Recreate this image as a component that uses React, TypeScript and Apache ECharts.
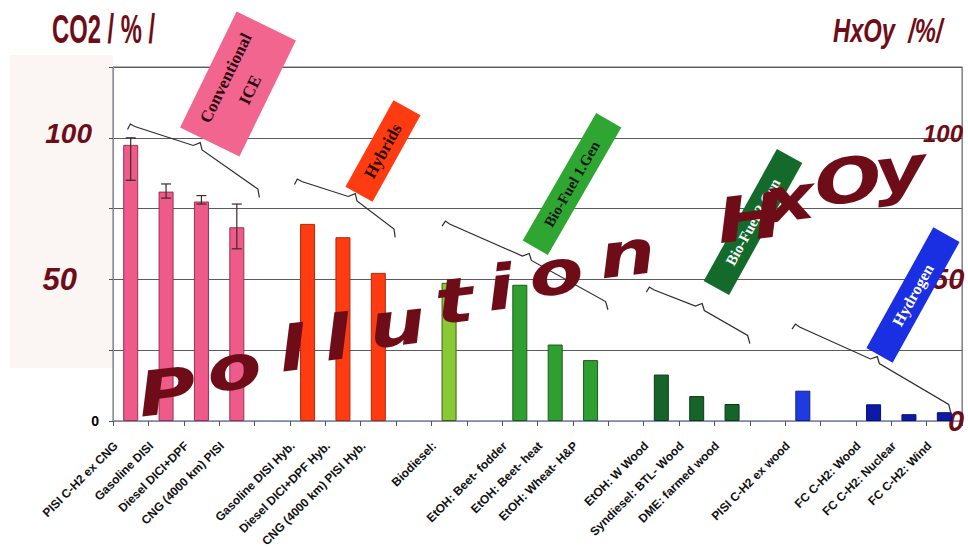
import React, { useEffect, useRef } from "react";
import * as echarts from "echarts";

// ---------- data ----------
const categories = [
  "PISI C-H2 ex CNG", "Gasoline DISI", "Diesel DICI+DPF", "CNG (4000 km) PISI", "",
  "Gasoline DISI Hyb.", "Diesel DICI+DPF Hyb.", "CNG (4000 km) PISI Hyb.", "",
  "Biodiesel:", "", "EtOH: Beet- fodder", "EtOH: Beet- heat", "EtOH: Wheat- H&P", "",
  "EtOH: W Wood", "Syndiesel: BTL- Wood", "DME: farmed wood", "",
  "PISI C-H2 ex wood", "", "FC C-H2: Wood", "FC C-H2: Nuclear", "FC C-H2: Wind",
];
const co2Values = [
  97.5, 81, 77.5, 68.4, null,
  69.6, 64.9, 52.3, null,
  48.8, null, 48.1, 27.0, 21.5, null,
  16.4, 8.8, 6.0, null,
  10.7, null, 5.9, 2.4, 3.1,
];
// colour family of each category (index into the palette)
const barFamily = [0, 0, 0, 0, -1, 1, 1, 1, -1, 2, -1, 3, 3, 3, -1, 4, 4, 4, -1, 5, -1, 6, 6, 6];
const errCategoryIdx = [0, 1, 2, 3];
const errLow = [85, 78.7, 76.6, 60.8];
const errHigh = [100, 83.7, 79.6, 76.6];
const yTicks = [0, 50, 100];
const groupLabels = ["Conventional\nICE", "Hybrids", "Bio-Fuel 1.Gen", "Bio-Fuel 2.Gen", "Hydrogen"];
const leftTitle = "CO2 / % /";
const rightTitle = "HxOy  /%/";
const pollutionLetters = ["P", "o", "l", "l", "u", "t", "i", "o", "n", "H", "x", "O", "y"];

// ---------- styles ----------
const DARK_RED = "#6e0c18";
const fills = ["#ee5a8a", "#ff3b12", "#88c934", "#2f9f32", "#17642a", "#1f3be0", "#0d1aa8"];
const borders = ["#9c3050", "#b02a08", "#3e5e12", "#1a5a1a", "#0c3a14", "#10208a", "#070f70"];

const labelBoxes = [
  { cx: 238, cy: 84, w: 129, h: 66, deg: 64, fill: "#f1658f", color: "#2a0a10", size: 17 },
  { cx: 383, cy: 151, w: 99, h: 31, deg: 61, fill: "#ff3b12", color: "#2a0a0a", size: 17 },
  { cx: 572, cy: 184, w: 147, h: 29, deg: 60, fill: "#2fa631", color: "#151515", size: 15 },
  { cx: 753, cy: 222, w: 151, h: 29, deg: 61, fill: "#136a2a", color: "#ffffff", size: 15 },
  { cx: 913, cy: 295, w: 138, h: 30, deg: 61, fill: "#1a2ee2", color: "#ffffff", size: 16 },
];
const braces = [
  [[130, 125], [198, 147], [262, 192]],
  [[297, 180], [353, 198], [398, 232]],
  [[445, 222], [527, 258], [610, 304]],
  [[649, 288], [700, 308], [752, 338]],
  [[795, 325], [875, 361], [953, 407]],
];
const letterPos = [
  [167, 392], [234, 368], [292, 349], [337, 338], [397, 324], [454, 301], [500, 288],
  [556, 273], [627, 254], [750, 218], [789, 199], [848, 181], [900, 170],
];

function bracePoints(S: number[], M: number[], E: number[]) {
  const norm = (a: number[], b: number[]) => {
    const dx = b[0] - a[0], dy = b[1] - a[1];
    const l = Math.hypot(dx, dy);
    return [dx / l, dy / l];
  };
  const u1 = norm(S, M);
  const u2 = norm(M, E);
  const n1 = [u1[1], -u1[0]];
  const n2 = [u2[1], -u2[0]];
  const nm = [(n1[0] + n2[0]) / 2, (n1[1] + n2[1]) / 2];
  return [
    [S[0] - n1[0] * 5 - u1[0], S[1] - n1[1] * 5 - u1[1]],
    [S[0] + n1[0] * 1, S[1] + n1[1] * 1],
    [S[0] + u1[0] * 5, S[1] + u1[1] * 5],
    [M[0] - u1[0] * 5, M[1] - u1[1] * 5],
    [M[0] + nm[0] * 5, M[1] + nm[1] * 5],
    [M[0] + u2[0] * 5, M[1] + u2[1] * 5],
    [E[0] - u2[0] * 5, E[1] - u2[1] * 5],
    [E[0] - n2[0] * 6 + u2[0], E[1] - n2[1] * 6 + u2[1]],
  ];
}

export default function App() {
  const ref = useRef<HTMLDivElement>(null);
  useEffect(() => {
    if (!ref.current) return;
    const chart = echarts.init(ref.current, undefined, { renderer: "svg" });

    const barData = co2Values.map((v, i) =>
      v === null
        ? "-"
        : {
            value: v,
            itemStyle: { color: fills[barFamily[i]], borderColor: borders[barFamily[i]], borderWidth: 1 },
          }
    );
    const errData = errCategoryIdx.map((c, i) => [c, errLow[i], errHigh[i]]);

    const graphic: any[] = [];
    graphic.push({
      type: "rect",
      z: -10,
      shape: { x: 10, y: 55, width: 103, height: 313 },
      style: { fill: "#fbf6f4" },
    });
    graphic.push({
      type: "text",
      x: 52,
      y: 8,
      scaleX: 0.58,
      z: 20,
      style: {
        text: leftTitle,
        fontSize: 41,
        fontWeight: "bold",
        fontFamily: "Liberation Sans",
        fill: DARK_RED,
        verticalAlign: "top",
      },
    });
    graphic.push({
      type: "text",
      x: 833,
      y: 14,
      scaleX: 0.72,
      z: 20,
      style: {
        text: rightTitle,
        fontSize: 33,
        fontWeight: "bold",
        fontStyle: "italic",
        fontFamily: "Liberation Sans",
        fill: DARK_RED,
        verticalAlign: "top",
      },
    });
    braces.forEach((b) => {
      graphic.push({
        type: "polyline",
        z: 5,
        shape: { points: bracePoints(b[0], b[1], b[2]) },
        style: { stroke: "#2a2a2a", lineWidth: 1.2, fill: null },
      });
    });
    labelBoxes.forEach((b, i) => {
      graphic.push({
        type: "group",
        x: b.cx,
        y: b.cy,
        rotation: (b.deg * Math.PI) / 180,
        z: 10,
        children: [
          {
            type: "rect",
            z: 10,
            shape: { x: -b.w / 2, y: -b.h / 2, width: b.w, height: b.h },
            style: { fill: b.fill },
          },
          {
            type: "text",
            z: 11,
            style: {
              text: groupLabels[i],
              x: 0,
              y: 0,
              align: "center",
              verticalAlign: "middle",
              fontSize: b.size,
              fontWeight: "bold",
              fontFamily: "Liberation Serif",
              fill: b.color,
              lineHeight: b.size + 10,
            },
          },
        ],
      });
    });
    pollutionLetters.forEach((ch, i) => {
      graphic.push({
        type: "text",
        x: letterPos[i][0],
        y: letterPos[i][1],
        rotation: 0.12,
        scaleX: 1.28,
        z: 30,
        style: {
          text: ch,
          align: "center",
          verticalAlign: "middle",
          fontSize: 62,
          fontWeight: "bold",
          fontStyle: "italic",
          fontFamily: "DejaVu Sans",
          fill: DARK_RED,
        },
      });
    });

    const leftRich = {
      z: { fontSize: 14, fontWeight: "bold", color: "#000", fontFamily: "Liberation Sans" },
      a: {
        fontSize: 28, fontWeight: "bold", fontStyle: "italic", color: DARK_RED,
        fontFamily: "Liberation Sans", padding: [0, 7, 8, 0],
      },
      b: {
        fontSize: 31, fontWeight: "bold", fontStyle: "italic", color: DARK_RED,
        fontFamily: "Liberation Sans", padding: [0, 22, 0, 0],
      },
    };
    const rightRich = {
      a: {
        fontSize: 24, fontWeight: "bold", fontStyle: "italic", color: DARK_RED,
        fontFamily: "Liberation Sans", padding: [0, 0, 8, 0],
      },
      b: {
        fontSize: 29, fontWeight: "bold", fontStyle: "italic", color: DARK_RED,
        fontFamily: "Liberation Sans", padding: [0, 0, 0, 9],
      },
      c: {
        fontSize: 29, fontWeight: "bold", fontStyle: "italic", color: DARK_RED,
        fontFamily: "Liberation Sans", padding: [0, 0, 0, 25],
      },
    };

    chart.setOption({
      animation: false,
      backgroundColor: "#ffffff",
      grid: {
        left: 113,
        right: 6,
        top: 67,
        bottom: 126,
        show: true,
        borderColor: "#6a6a72",
        borderWidth: 1,
        containLabel: false,
        outerBoundsMode: "none",
      },
      xAxis: {
        type: "category",
        data: categories,
        axisLine: { lineStyle: { color: "#8e9cc0", width: 1.5 } },
        axisTick: { show: true, interval: 0, length: 5, lineStyle: { color: "#555" } },
        axisLabel: {
          interval: 0,
          rotate: 45,
          margin: 8,
          padding: [0, 21, 0, 0],
          fontSize: 12,
          fontWeight: "bold",
          fontFamily: "Liberation Sans",
          color: "#111",
        },
      },
      yAxis: [
        {
          type: "value",
          min: 0,
          max: 125,
          interval: 25,
          axisLine: { show: true, lineStyle: { color: "#8a8aa4" } },
          axisTick: { show: true, length: 4, lineStyle: { color: "#555" } },
          splitLine: { show: true, lineStyle: { color: "#5a5a62", width: 1 } },
          axisLabel: {
            margin: 14,
            formatter: (v: number) =>
              v === yTicks[0] ? `{z|${v}}` : v === yTicks[1] ? `{b|${v}}` : v === yTicks[2] ? `{a|${v}}` : "",
            rich: leftRich,
          },
        },
        {
          type: "value",
          position: "right",
          min: 0,
          max: 125,
          interval: 25,
          axisLine: { show: true, lineStyle: { color: "#888" } },
          axisTick: { show: false },
          splitLine: { show: false },
          axisLabel: {
            margin: -39,
            formatter: (v: number) =>
              v === yTicks[0] ? `{c|${v}}` : v === yTicks[1] ? `{b|${v}}` : v === yTicks[2] ? `{a|${v}}` : "",
            rich: rightRich,
          },
        },
      ],
      series: [
        {
          type: "bar",
          data: barData,
          barWidth: 15,
          yAxisIndex: 0,
          z: 3,
        },
        {
          type: "custom",
          yAxisIndex: 0,
          z: 4,
          data: errData,
          encode: { x: 0, y: [1, 2] },
          renderItem: (params: any, api: any) => {
            const c = api.value(0);
            const lo = api.coord([c, api.value(1)]);
            const hi = api.coord([c, api.value(2)]);
            const half = 5;
            const st = { stroke: "#3a2a2a", lineWidth: 1.2 };
            return {
              type: "group",
              children: [
                { type: "line", shape: { x1: lo[0], y1: lo[1], x2: hi[0], y2: hi[1] }, style: st },
                { type: "line", shape: { x1: lo[0] - half, y1: lo[1], x2: lo[0] + half, y2: lo[1] }, style: st },
                { type: "line", shape: { x1: hi[0] - half, y1: hi[1], x2: hi[0] + half, y2: hi[1] }, style: st },
              ],
            };
          },
        },
      ],
      graphic,
    });
    return () => chart.dispose();
  }, []);
  return (
    <div
      ref={ref}
      style={{ position: "fixed", left: 0, top: 0, width: 968, height: 547, background: "#fff" }}
    />
  );
}
